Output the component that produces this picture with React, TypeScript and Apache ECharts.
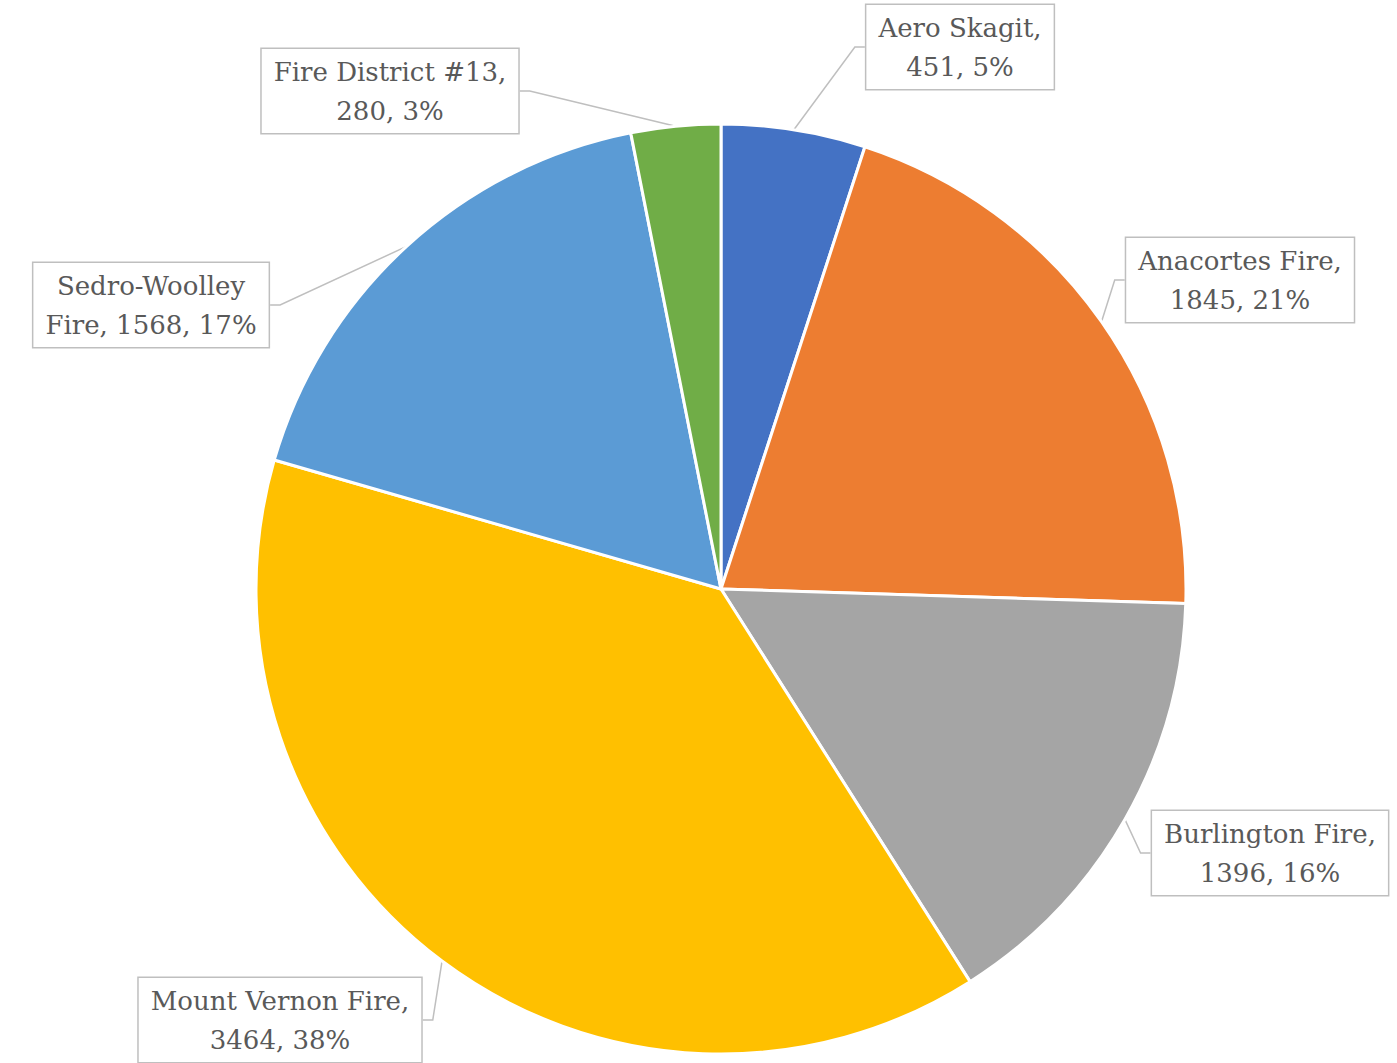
import React, { useEffect, useRef } from "react";
import * as echarts from "echarts";

const categories = [
  "Aero Skagit",
  "Anacortes Fire",
  "Burlington Fire",
  "Mount Vernon Fire",
  "Sedro-Woolley Fire",
  "Fire District #13",
];
const values = [451, 1845, 1396, 3464, 1568, 280];
const colors = ["#4472C4", "#ED7D31", "#A5A5A5", "#FFC000", "#5B9BD5", "#70AD47"];
// label box centres (layout only)
const labelCenters = [
  [960, 47],
  [1240, 280],
  [1270, 853],
  [280, 1020],
  [151, 305],
  [390, 91],
];

export default function App() {
  const ref = useRef<HTMLDivElement>(null);
  useEffect(() => {
    if (!ref.current) return;
    const chart = echarts.init(ref.current, null, { renderer: "svg" });
    chart.setOption({
      animation: false,
      backgroundColor: "#ffffff",
      series: [
        {
          type: "pie",
          center: [721, 589],
          radius: 465,
          startAngle: 90,
          clockwise: true,
          avoidLabelOverlap: false,
          percentPrecision: 0,
          data: categories.map((name, i) => ({
            name,
            value: values[i],
            itemStyle: { color: colors[i] },
          })),
          itemStyle: { borderColor: "#ffffff", borderWidth: 3 },
          label: {
            show: true,
            position: "outside",
            formatter: (p: any) => {
              const name: string = p.name;
              if (name.startsWith("Sedro")) {
                const parts = name.split(" ");
                return `${parts[0]}\n${parts.slice(1).join(" ")}, ${p.value}, ${p.percent}%`;
              }
              return `${name},\n${p.value}, ${p.percent}%`;
            },
            fontFamily: "DejaVu Serif",
            fontSize: 26,
            lineHeight: 39,
            color: "#595959",
            align: "center",
            backgroundColor: "#ffffff",
            borderColor: "#BFBFBF",
            borderWidth: 1.5,
            padding: [3, 12, 3, 12],
          },
          labelLine: {
            show: true,
            length: 15,
            length2: 10,
            lineStyle: { color: "#BFBFBF", width: 1.5 },
          },
          labelLayout: (params: any) => {
            const c = labelCenters[params.dataIndex];
            return {
              x: c[0],
              y: c[1],
              align: "center",
              verticalAlign: "middle",
              hideOverlap: false,
            };
          },
        },
      ],
    });
    return () => chart.dispose();
  }, []);
  return (
    <div
      ref={ref}
      style={{ position: "fixed", left: 0, top: 0, width: 1397, height: 1063 }}
    />
  );
}
